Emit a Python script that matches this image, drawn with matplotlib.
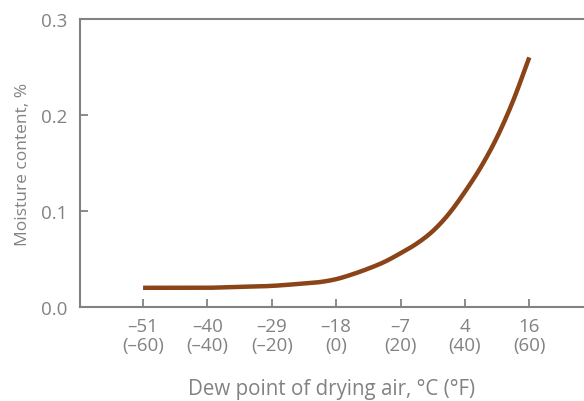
import matplotlib
matplotlib.use("Agg")
import matplotlib.pyplot as plt
import numpy as np

# Data: dew point in °F, moisture content in %
dew_f = [-60, -50, -40, -30, -20, -10, -5, 0, 5, 10, 15, 20, 25, 30, 35, 40, 45, 50, 55, 60]
moisture = [0.020, 0.020, 0.020, 0.021, 0.022, 0.0245, 0.026, 0.029, 0.034, 0.040, 0.047,
            0.056, 0.066, 0.079, 0.097, 0.120, 0.146, 0.177, 0.215, 0.260]

tick_f = [-60, -40, -20, 0, 20, 40, 60]
tick_c = ["–51", "–40", "–29", "–18", "–7", "4", "16"]
tick_f_lbl = ["(–60)", "(–40)", "(–20)", "(0)", "(20)", "(40)", "(60)"]
y_ticks = [0.0, 0.1, 0.2, 0.3]


def smooth_path(x, y, n=20):
    """Catmull-Rom rendering of the polyline through the data points."""
    x = np.asarray(x, float)
    y = np.asarray(y, float)
    px = np.concatenate([[2 * x[0] - x[1]], x, [2 * x[-1] - x[-2]]])
    py = np.concatenate([[2 * y[0] - y[1]], y, [2 * y[-1] - y[-2]]])
    xs, ys = [], []
    t = np.linspace(0, 1, n, endpoint=False)
    for i in range(1, len(px) - 2):
        for arr, out in ((px, xs), (py, ys)):
            p0, p1, p2, p3 = arr[i - 1], arr[i], arr[i + 1], arr[i + 2]
            out.extend(0.5 * ((2 * p1) + (-p0 + p2) * t + (2 * p0 - 5 * p1 + 4 * p2 - p3) * t ** 2
                              + (-p0 + 3 * p1 - 3 * p2 + p3) * t ** 3))
    xs.append(x[-1])
    ys.append(y[-1])
    return xs, ys


plt.rcParams['font.family'] = ['Open Sans', 'DejaVu Sans']
grey = "#828282"

fig = plt.figure(figsize=(5.84, 4.02), dpi=100)
ax = fig.add_axes([80/584, 1-308/402, 1-80/584, 288/402])

sx, sy = smooth_path(dew_f, moisture)
ax.plot(sx, sy, color="#8B4318", lw=3.2, solid_capstyle="butt")

ax.set_xlim(-79.6, 77)
ax.set_ylim(0, 0.3)
ax.set_xticks(tick_f)
ax.set_xticklabels([f"{c}\n{f}" for c, f in zip(tick_c, tick_f_lbl)], linespacing=1.1)
ax.set_yticks(y_ticks)
ax.set_yticklabels([f"{v:.1f}" for v in y_ticks])

for s in ["left", "bottom", "top"]:
    ax.spines[s].set_color(grey)
    ax.spines[s].set_linewidth(1.5)
ax.spines["right"].set_visible(False)

ax.tick_params(axis="both", direction="in", length=6, width=1.3, color=grey,
               labelcolor=grey, labelsize=13.5)
ax.tick_params(axis="x", pad=7)
ax.tick_params(axis="y", pad=9)

ax.set_xlabel("Dew point of drying air, °C (°F)", color=grey, fontsize=14.8, labelpad=17)
ax.set_ylabel("Moisture content, %", color=grey, fontsize=12.5, labelpad=7)

fig.savefig("out.png", dpi=100)
